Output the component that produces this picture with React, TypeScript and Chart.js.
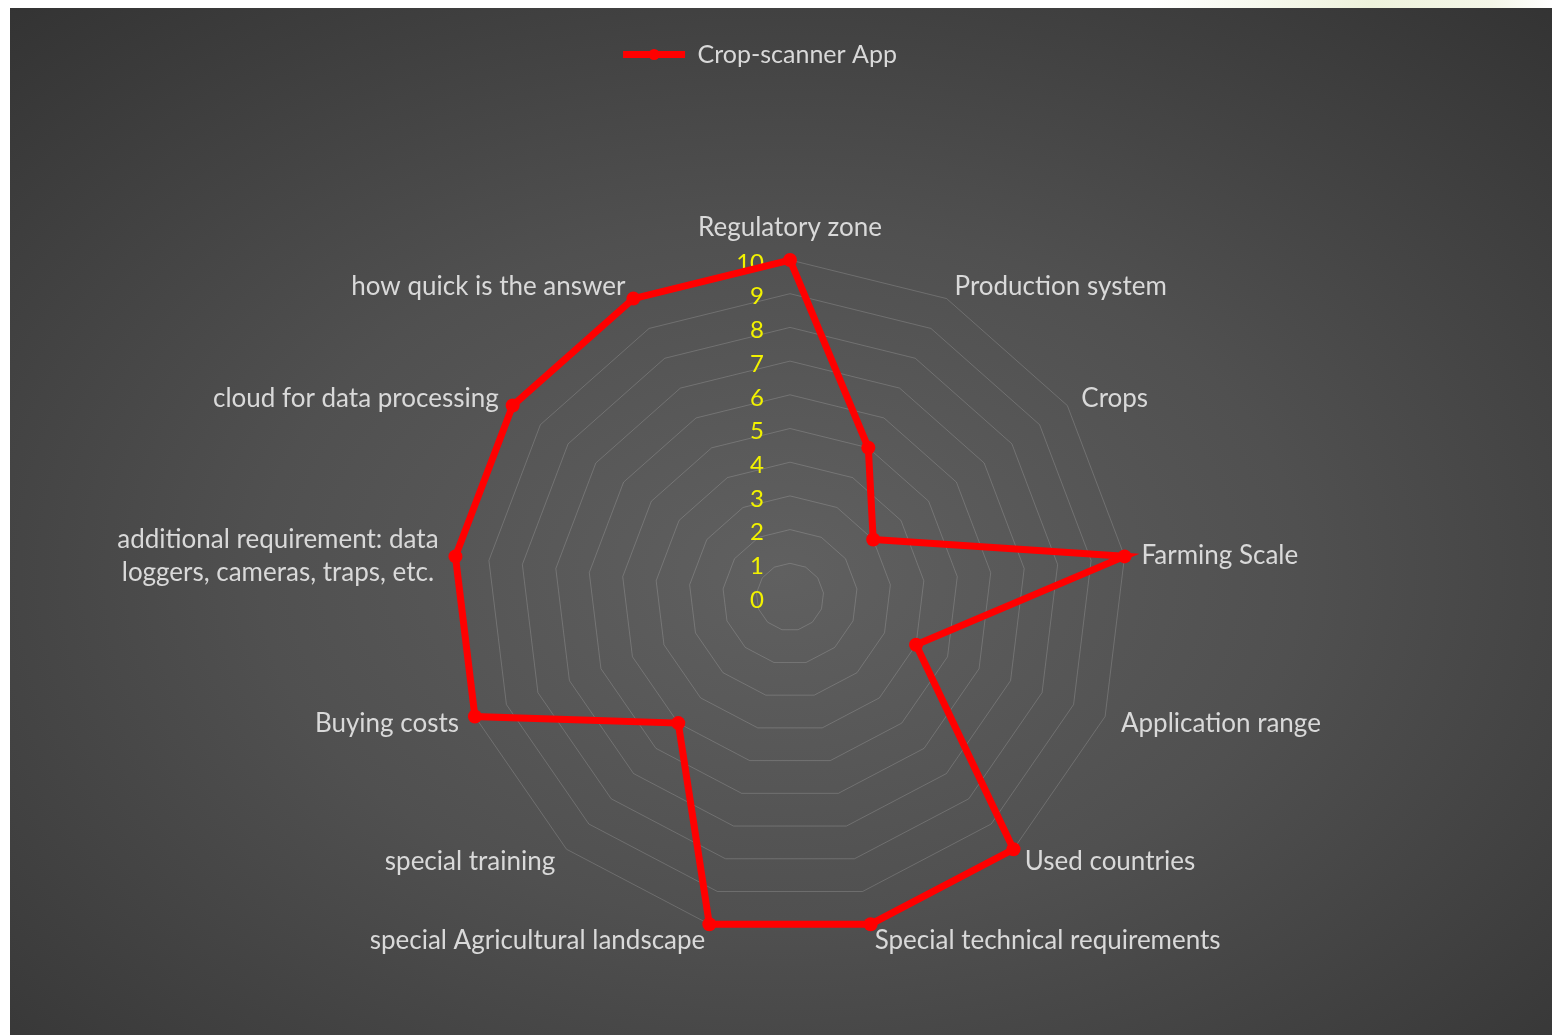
import React, { useEffect, useRef } from 'react';
import { Chart, registerables } from 'chart.js';

Chart.register(...registerables);

const categories: (string | string[])[] = [
  'Regulatory zone',
  'Production system',
  'Crops',
  'Farming Scale',
  'Application range',
  'Used countries',
  'Special technical requirements',
  'special Agricultural landscape',
  'special training',
  'Buying costs',
  ['additional requirement: data', 'loggers, cameras, traps, etc.'],
  'cloud for data processing',
  'how quick is the answer',
];

const seriesName = 'Crop-scanner App';
const seriesValues = [10, 5, 3, 10, 4, 10, 10, 10, 5, 10, 10, 10, 10];
const tickValues = [0, 1, 2, 3, 4, 5, 6, 7, 8, 9, 10];

const FONT = 'Lato, "Open Sans", sans-serif';
const LABEL_COLOR = '#d9d9d9';
const TICK_COLOR = '#f2f200';
const RED = '#ff0000';

const tickPlugin = {
  id: 'excelTicks',
  beforeDatasetsDraw(chart: any) {
    const scale = chart.scales.r;
    const ctx = chart.ctx;
    ctx.save();
    ctx.font = `24px ${FONT}`;
    ctx.fillStyle = TICK_COLOR;
    ctx.textAlign = 'right';
    ctx.textBaseline = 'middle';
    tickValues.forEach((v) => {
      const r = scale.getDistanceFromCenterForValue(v);
      ctx.fillText(String(v), scale.xCenter - 26, scale.yCenter - r + 3);
    });
    ctx.restore();
  },
};

const pointLabelPlugin = {
  id: 'excelPointLabels',
  beforeDatasetsDraw(chart: any) {
    const scale = chart.scales.r;
    const ctx = chart.ctx;
    ctx.save();
    ctx.font = `26px ${FONT}`;
    ctx.fillStyle = LABEL_COLOR;
    ctx.textAlign = 'center';
    ctx.textBaseline = 'middle';
    const lh = 33;
    categories.forEach((lab, i) => {
      const angle = scale.getIndexAngle(i);
      const pos = scale.getPointPosition(i, scale.drawingArea + 17);
      const lines = Array.isArray(lab) ? lab : [lab];
      const widths = lines.map((l) => ctx.measureText(l).width);
      const bw = Math.max(...widths);
      const totalH = lines.length * lh;
      const s = Math.sin(angle);
      const c = Math.cos(angle);
      let cx = pos.x;
      let cy = pos.y + 1.5 + 2 * c;
      if (Math.abs(s) < 0.05) {
        cy = c > 0 ? pos.y - totalH / 2 + 1 : pos.y + totalH / 2 - 1;
      } else if (s > 0) {
        cx = pos.x + bw / 2;
      } else {
        cx = pos.x - bw / 2;
      }
      lines.forEach((l, k) => {
        ctx.fillText(l, cx, cy + (k - (lines.length - 1) / 2) * lh);
      });
    });
    ctx.restore();
  },
};

const legendMarkerPlugin = {
  id: 'legendMarker',
  afterDraw(chart: any) {
    const legend = chart.legend;
    if (!legend || !legend.legendHitBoxes || !legend.legendHitBoxes.length) return;
    const hb = legend.legendHitBoxes[0];
    const bw = legend.options.labels.boxWidth;
    const ctx = chart.ctx;
    ctx.save();
    ctx.fillStyle = RED;
    ctx.beginPath();
    ctx.arc(hb.left + bw / 2, hb.top + hb.height / 2, 5.5, 0, Math.PI * 2);
    ctx.fill();
    ctx.restore();
  },
};

export default function App() {
  const canvasRef = useRef<HTMLCanvasElement | null>(null);

  useEffect(() => {
    if (!canvasRef.current) return;
    const chart = new Chart(canvasRef.current, {
      type: 'radar',
      data: {
        labels: categories as any,
        datasets: [
          {
            label: seriesName,
            data: seriesValues,
            borderColor: RED,
            backgroundColor: RED,
            borderWidth: 7,
            pointRadius: 7,
            pointBackgroundColor: RED,
            pointBorderColor: RED,
            pointBorderWidth: 0,
            fill: false,
            tension: 0,
          },
        ],
      },
      options: {
        animation: false,
        responsive: true,
        maintainAspectRatio: false,
        layout: {
          padding: { top: 24, bottom: 101, left: 0, right: 42 },
        },
        plugins: {
          legend: {
            display: true,
            position: 'top',
            labels: {
              color: LABEL_COLOR,
              font: { family: FONT, size: 25 },
              boxWidth: 62,
              boxHeight: 7,
              padding: 10,
              generateLabels: (ch: any) =>
                Chart.defaults.plugins.legend.labels
                  .generateLabels(ch)
                  .map((l: any) => ({ ...l, lineWidth: 0, fillStyle: RED, strokeStyle: RED })),
            },
          },
          title: {
            display: true,
            text: '',
            weight: 500,
            font: { size: 10 },
            padding: { top: 171, bottom: 0 },
          } as any,
          subtitle: {
            display: true,
            text: '',
            position: 'left',
            fullSize: false,
            font: { size: 10 },
            padding: { top: 48, bottom: 0 },
          } as any,
          tooltip: { enabled: false },
        },
        scales: {
          r: {
            min: 0,
            max: 10,
            beginAtZero: true,
            ticks: { display: false, stepSize: 1 },
            grid: { color: 'rgba(225,225,225,0.2)', lineWidth: 1 },
            angleLines: { display: false },
            pointLabels: { display: false },
          },
        },
      },
      plugins: [tickPlugin, pointLabelPlugin, legendMarkerPlugin],
    });
    return () => chart.destroy();
  }, []);

  return (
    <>
      <div
        style={{
          position: 'absolute',
          left: 1150,
          top: 0,
          width: 402,
          height: 8,
          background: 'linear-gradient(to right, #ffffff, #eef2dc 55%, #f4f6e8 85%, #ffffff)',
        }}
      />
      <div
        style={{
          position: 'absolute',
          left: 10,
          top: 8,
          width: 1542,
          height: 1027,
          background:
            'radial-gradient(ellipse 75% 75% at 50% 55%, #606060 0%, #505050 45%, #333333 100%)',
        }}
      >
        <canvas ref={canvasRef} />
      </div>
    </>
  );
}
